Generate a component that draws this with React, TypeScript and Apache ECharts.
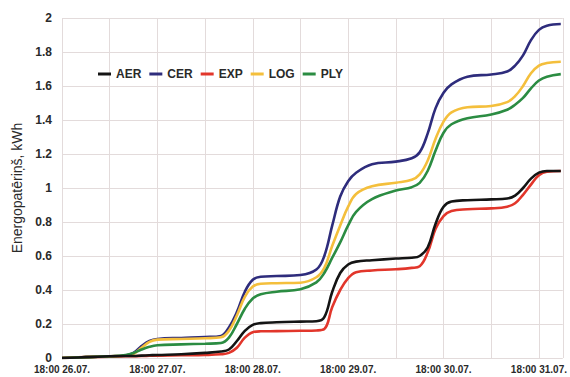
import React, { useEffect, useRef } from "react";
import * as echarts from "echarts";

// hours since 18:00 26.07.
const hours = [0, 6, 12, 16, 18, 20, 22, 24, 30, 36, 40, 42, 44, 46, 48, 50, 54, 60, 64, 66, 68, 70, 72, 74, 78, 84, 88, 90, 92, 94, 96, 98, 102, 108, 112, 114, 116, 118, 120, 122, 125.5];

const seriesNames = ["AER", "CER", "EXP", "LOG", "PLY"];

const aer = [0, 0.005, 0.01, 0.012, 0.012, 0.014, 0.016, 0.018, 0.022, 0.03, 0.038, 0.05, 0.1, 0.16, 0.195, 0.205, 0.21, 0.214, 0.216, 0.24, 0.39, 0.5, 0.55, 0.567, 0.575, 0.585, 0.59, 0.6, 0.65, 0.79, 0.89, 0.92, 0.928, 0.933, 0.938, 0.955, 1.0, 1.055, 1.09, 1.1, 1.1];
const cer = [0, 0.005, 0.01, 0.015, 0.03, 0.07, 0.1, 0.112, 0.118, 0.123, 0.13, 0.18, 0.27, 0.39, 0.46, 0.478, 0.482, 0.488, 0.52, 0.6, 0.78, 0.95, 1.04, 1.09, 1.14, 1.155, 1.175, 1.21, 1.32, 1.47, 1.56, 1.61, 1.655, 1.668, 1.685, 1.72, 1.78, 1.87, 1.93, 1.955, 1.965];
const exp = [0, 0.005, 0.008, 0.01, 0.01, 0.012, 0.013, 0.014, 0.016, 0.018, 0.022, 0.03, 0.06, 0.12, 0.152, 0.157, 0.158, 0.16, 0.162, 0.17, 0.3, 0.4, 0.47, 0.505, 0.515, 0.522, 0.53, 0.54, 0.62, 0.76, 0.835, 0.865, 0.875, 0.88, 0.89, 0.91, 0.96, 1.02, 1.075, 1.096, 1.1];
const log = [0, 0.005, 0.01, 0.015, 0.025, 0.06, 0.095, 0.108, 0.112, 0.116, 0.122, 0.16, 0.25, 0.36, 0.42, 0.437, 0.44, 0.443, 0.475, 0.53, 0.66, 0.78, 0.89, 0.965, 1.01, 1.031, 1.048, 1.08, 1.16, 1.29, 1.39, 1.445, 1.475, 1.482, 1.505, 1.54, 1.6, 1.675, 1.72, 1.735, 1.743];
const ply = [0, 0.005, 0.01, 0.018, 0.03, 0.05, 0.066, 0.075, 0.08, 0.084, 0.088, 0.12, 0.2, 0.29, 0.35, 0.375, 0.39, 0.405, 0.445, 0.5, 0.59, 0.68, 0.78, 0.86, 0.935, 0.985, 1.005, 1.03, 1.1, 1.22, 1.325, 1.375, 1.41, 1.432, 1.46, 1.49, 1.53, 1.586, 1.632, 1.655, 1.67];

const seriesValues = [aer, cer, exp, log, ply];
const seriesColors = ["#141414", "#2e2c7c", "#e2362b", "#f4bf3c", "#2b8c42"];

const dayLabels = ["18:00 26.07.", "18:00 27.07.", "18:00 28.07.", "18:00 29.07.", "18:00 30.07.", "18:00 31.07."];
const yAxisTitle = "Energopatēriņš, kWh";

const FONT = "'Liberation Sans', Arial, sans-serif";

export default function App() {
  const ref = useRef<HTMLDivElement>(null);
  useEffect(() => {
    if (!ref.current) return;
    const chart = echarts.init(ref.current, null, { renderer: "svg" });
    const gridColor = "#e3dbdb";
    chart.setOption({
      animation: false,
      backgroundColor: "#ffffff",
      textStyle: { fontFamily: FONT },
      grid: { left: 62, right: 2, top: 18, bottom: 19, containLabel: false },
      legend: {
        left: 93,
        top: 63,
        icon: "rect",
        itemWidth: 13,
        itemHeight: 3,
        itemGap: 8,
        textStyle: { fontFamily: FONT, fontSize: 12, fontWeight: "bold", color: "#2a2a2a" },
        data: seriesNames,
      },
      xAxis: {
        type: "value",
        min: 0,
        max: 126,
        interval: 12,
        axisLine: { show: false },
        axisTick: { show: false },
        splitLine: { show: true, lineStyle: { color: gridColor, width: 1 } },
        axisLabel: {
          fontFamily: FONT,
          fontSize: 10,
          fontWeight: "bold",
          color: "#2a2a2a",
          margin: 6,
          formatter: (v: number) => {
            if (v % 24 !== 0) return "";
            const i = v / 24;
            return dayLabels[i] ?? "";
          },
        },
      },
      yAxis: {
        type: "value",
        min: 0,
        max: 2,
        interval: 0.2,
        name: yAxisTitle,
        nameLocation: "middle",
        nameGap: 32,
        nameTextStyle: { fontFamily: FONT, fontSize: 14, color: "#2a2a2a" },
        axisLine: { show: false },
        axisTick: { show: false },
        splitLine: { show: true, lineStyle: { color: gridColor, width: 1 } },
        axisLabel: { fontFamily: FONT, fontSize: 12, fontWeight: "bold", color: "#2a2a2a", margin: 10 },
      },
      series: seriesNames.map((name, i) => ({
        name,
        type: "line",
        smooth: 0.4,
        showSymbol: false,
        symbol: "none",
        color: seriesColors[i],
        lineStyle: { width: 2.6, color: seriesColors[i] },
        data: hours.map((h, j) => [h, seriesValues[i][j]]),
        z: i === 0 ? 3 : 2,
      })),
    });
    return () => chart.dispose();
  }, []);
  return (
    <div
      ref={ref}
      style={{ position: "fixed", left: 0, top: 0, width: 570, height: 377 }}
    />
  );
}
